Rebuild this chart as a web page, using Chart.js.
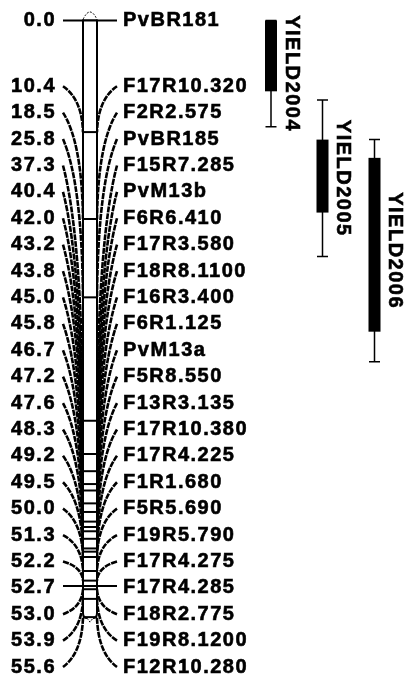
<!DOCTYPE html>
<html>
<head>
<meta charset="utf-8">
<script src="https://cdn.jsdelivr.net/npm/chart.js@4.4.0/dist/chart.umd.min.js"></script>
<style>
  html, body { margin: 0; background: #fff; }
  #wrap { width: 405px; height: 680px; }
</style>
</head>
<body>
<div id="wrap"><canvas id="map" width="405" height="680"></canvas></div>
<script>
// marker positions (cM) and names, top to bottom
const positions = [0.0, 10.4, 18.5, 25.8, 37.3, 40.4, 42.0, 43.2, 43.8, 45.0, 45.8, 46.7,
                   47.2, 47.6, 48.3, 49.2, 49.5, 50.0, 51.3, 52.2, 52.7, 53.0, 53.9, 55.6];
const markers = ["PvBR181", "F17R10.320", "F2R2.575", "PvBR185", "F15R7.285", "PvM13b",
                 "F6R6.410", "F17R3.580", "F18R8.1100", "F16R3.400", "F6R1.125", "PvM13a",
                 "F5R8.550", "F13R3.135", "F17R10.380", "F17R4.225", "F1R1.680", "F5R5.690",
                 "F19R5.790", "F17R4.275", "F17R4.285", "F18R2.775", "F19R8.1200", "F12R10.280"];

// QTL intervals (cM): inner box = LOD-1, whiskers = LOD-2
const qtlNames = ["YIELD2004", "YIELD2005", "YIELD2006"];
const qtlInner = [[0.0, 6.6], [11.1, 17.9], [12.8, 29.0]];
const qtlOuter = [[0.0, 9.9], [7.4, 22.0], [11.1, 31.8]];

// layout
const labelGap = 2.46;     // min distance between labels, cM
const lastSlot = 60.25;    // lowest label slot, cM
const chromLeft = 83, chromRight = 97;
const numRight = 56, nameLeft = 123, lineLeft = 63, lineRight = 117;
const qtlX = [271, 322.5, 374.5];
const FONT = 'bold 20px "Liberation Sans", Arial, sans-serif';

// push labels apart so they don't overlap, keep them above lastSlot
function spreadLabels(pos, gap, maxPos) {
  const out = pos.slice();
  for (let i = 1; i < out.length; i++) out[i] = Math.max(out[i], out[i - 1] + gap);
  out[out.length - 1] = Math.min(out[out.length - 1], maxPos);
  for (let i = out.length - 2; i >= 0; i--) out[i] = Math.min(out[i], out[i + 1] - gap);
  return out;
}

function boldText(ctx, s, x, y) {
  ctx.fillText(s, x, y);
  ctx.strokeText(s, x, y);
}

const linkageMap = {
  id: "linkageMap",
  afterDraw(chart) {
    const ctx = chart.ctx;
    const xs = chart.scales.x, ys = chart.scales.y;
    const px = v => xs.getPixelForValue(v);
    const py = v => ys.getPixelForValue(v);
    const slots = spreadLabels(positions, labelGap, lastSlot);
    const cl = px(chromLeft), cr = px(chromRight), cm = (cl + cr) / 2;

    ctx.save();
    ctx.strokeStyle = "#000";
    ctx.fillStyle = "#000";

    // connectors
    positions.forEach((p, i) => {
      const ly = py(slots[i]), ry = py(p);
      if (Math.abs(slots[i] - p) < 0.3) {
        ctx.setLineDash([]);
        ctx.lineWidth = 2;
        ctx.beginPath();
        ctx.moveTo(px(lineLeft), ry);
        ctx.lineTo(px(lineRight), ry);
        ctx.stroke();
        return;
      }
      ctx.setLineDash([6, 1]);
      ctx.lineWidth = 2.6;
      const my = ly + 0.28 * (ry - ly);
      ctx.beginPath();
      ctx.moveTo(px(lineLeft), ly);
      ctx.quadraticCurveTo(cl - 1, my, cl, ry);
      ctx.stroke();
      ctx.beginPath();
      ctx.moveTo(px(lineRight), ly);
      ctx.quadraticCurveTo(cr + 1, my, cr, ry);
      ctx.stroke();
    });

    // chromosome
    const top = py(positions[0]), bot = py(positions[positions.length - 1]);
    ctx.setLineDash([]);
    ctx.fillStyle = "#fff";
    ctx.fillRect(cl, top, cr - cl, bot - top);
    ctx.lineWidth = 2;
    ctx.beginPath();
    ctx.moveTo(cl, top - 1);
    ctx.lineTo(cl, bot - 4);
    ctx.quadraticCurveTo(cl, bot + 1, cm - 3, bot + 1);
    ctx.moveTo(cr, top - 1);
    ctx.lineTo(cr, bot - 4);
    ctx.quadraticCurveTo(cr, bot + 1, cm + 3, bot + 1);
    ctx.stroke();
    ctx.lineWidth = 1;
    ctx.setLineDash([2, 1.5]);
    ctx.beginPath();
    ctx.moveTo(cl, top - 1);
    ctx.quadraticCurveTo(cm, top - 16, cr, top - 1);
    ctx.moveTo(cm - 3, bot + 1);
    ctx.lineTo(cm, bot + 5);
    ctx.lineTo(cm + 3, bot + 1);
    ctx.stroke();
    ctx.setLineDash([]);
    ctx.lineWidth = 2;
    positions.forEach(p => {
      ctx.beginPath();
      ctx.moveTo(cl, py(p));
      ctx.lineTo(cr, py(p));
      ctx.stroke();
    });

    // labels
    ctx.fillStyle = "#000";
    ctx.font = FONT;
    ctx.letterSpacing = "1.5px";
    ctx.textBaseline = "middle";
    ctx.lineWidth = 0.6;
    positions.forEach((p, i) => {
      const ly = py(slots[i]);
      ctx.textAlign = "right";
      boldText(ctx, p.toFixed(1), px(numRight), ly);
      ctx.textAlign = "left";
      boldText(ctx, markers[i], px(nameLeft), ly);
    });

    // QTL bars
    qtlNames.forEach((name, q) => {
      const x = px(qtlX[q]);
      const [o0, o1] = qtlOuter[q], [i0, i1] = qtlInner[q];
      ctx.lineWidth = 1.5;
      ctx.beginPath();
      ctx.moveTo(x, py(o0));
      ctx.lineTo(x, py(o1));
      ctx.moveTo(x - 5.5, py(o0));
      ctx.lineTo(x + 5.5, py(o0));
      ctx.moveTo(x - 5.5, py(o1));
      ctx.lineTo(x + 5.5, py(o1));
      ctx.stroke();
      ctx.fillRect(x - 6, py(i0), 12, py(i1) - py(i0));
      ctx.save();
      ctx.translate(x + 20.5, py((o0 + o1) / 2));
      ctx.rotate(Math.PI / 2);
      ctx.textAlign = "center";
      ctx.lineWidth = 0.6;
      boldText(ctx, name, 0, 0);
      ctx.restore();
    });
    ctx.restore();
  }
};

new Chart(document.getElementById("map"), {
  type: "scatter",
  data: { datasets: [{ data: [] }] },
  options: {
    responsive: false,
    animation: false,
    events: [],
    layout: { padding: 0 },
    plugins: { legend: { display: false }, tooltip: { enabled: false } },
    scales: {
      x: { type: "linear", min: 0, max: 405, display: false },
      y: { type: "linear", min: -1.91, max: 61.46, reverse: true, display: false }
    }
  },
  plugins: [linkageMap]
});
</script>
</body>
</html>
